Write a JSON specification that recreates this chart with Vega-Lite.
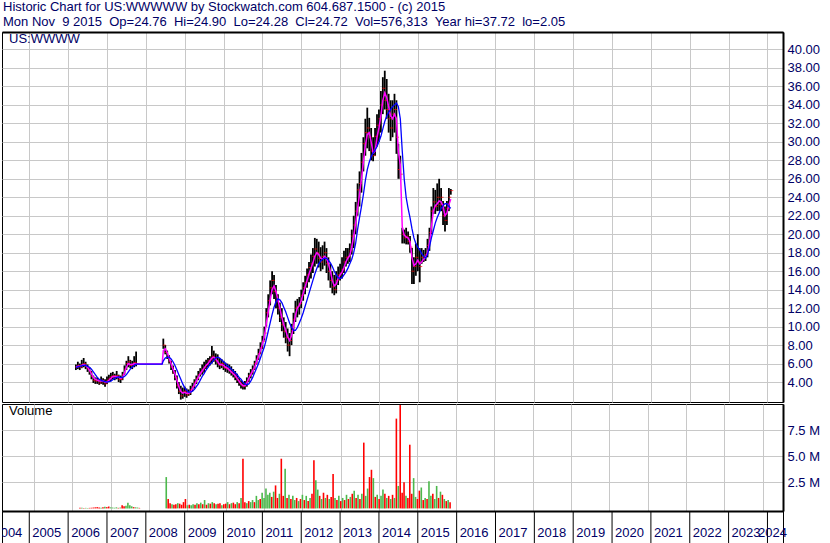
{
 "$schema": "https://vega.github.io/schema/vega-lite/v6.json",
 "background": "#ffffff",
 "padding": {"left": 1, "top": 0, "right": 0, "bottom": 0},
 "title": {"text": ["Historic Chart for US:WWWWW by Stockwatch.com 604.687.1500 - (c) 2015", "Mon Nov\u00a0\u00a09 2015\u00a0\u00a0Op=24.76\u00a0\u00a0Hi=24.90\u00a0\u00a0Lo=24.28\u00a0\u00a0Cl=24.72\u00a0\u00a0Vol=576,313\u00a0\u00a0Year hi=37.72\u00a0\u00a0lo=2.05"], "anchor": "start", "frame": "group", "fontSize": 13, "fontWeight": "normal", "font": "Liberation Sans", "color": "#000066", "lineHeight": 15, "offset": 3, "dx": 1},
 "config": {
  "font": "Liberation Sans",
  "view": {"stroke": "#000000", "strokeWidth": 1},
  "axis": {"gridColor": "#c8c8c8", "gridWidth": 1, "gridOpacity": 1, "labelFont": "Liberation Sans", "labelFontSize": 13, "labelColor": "#000066", "ticks": false, "domain": false, "labelOverlap": false}
 },
 "datasets": {
  "p": [
   {"t":2006.20,"h":5.9,"l":5.3,"c":5.6,"a":5.6,"b":5.6,"v":0.05,"s":"d"},
   {"t":2006.25,"h":6.2,"l":5.4,"c":5.8,"a":5.7,"b":5.65,"v":0.06,"s":"u"},
   {"t":2006.30,"h":6.0,"l":5.3,"c":5.6,"a":5.7,"b":5.7,"v":0.04,"s":"d"},
   {"t":2006.35,"h":6.4,"l":5.5,"c":5.9,"a":5.8,"b":5.75,"v":0.05,"s":"u"},
   {"t":2006.40,"h":6.6,"l":5.6,"c":6.0,"a":5.9,"b":5.8,"v":0.04,"s":"u"},
   {"t":2006.45,"h":6.2,"l":5.4,"c":5.7,"a":5.8,"b":5.8,"v":0.05,"s":"d"},
   {"t":2006.50,"h":5.9,"l":5.1,"c":5.4,"a":5.6,"b":5.7,"v":0.06,"s":"d"},
   {"t":2006.55,"h":5.6,"l":4.8,"c":5.1,"a":5.3,"b":5.6,"v":0.08,"s":"d"},
   {"t":2006.60,"h":5.2,"l":4.3,"c":4.6,"a":4.9,"b":5.4,"v":0.1,"s":"d"},
   {"t":2006.65,"h":4.7,"l":3.9,"c":4.2,"a":4.5,"b":5.1,"v":0.12,"s":"d"},
   {"t":2006.70,"h":4.5,"l":3.8,"c":4.1,"a":4.3,"b":4.8,"v":0.08,"s":"d"},
   {"t":2006.75,"h":4.5,"l":3.8,"c":4.2,"a":4.2,"b":4.5,"v":0.06,"s":"u"},
   {"t":2006.80,"h":4.3,"l":3.7,"c":3.9,"a":4.1,"b":4.3,"v":0.1,"s":"d"},
   {"t":2006.85,"h":4.6,"l":3.8,"c":4.2,"a":4.1,"b":4.2,"v":0.15,"s":"u"},
   {"t":2006.90,"h":4.4,"l":3.7,"c":4.0,"a":4.1,"b":4.1,"v":0.12,"s":"d"},
   {"t":2006.95,"h":4.3,"l":3.5,"c":3.8,"a":4.0,"b":4.05,"v":0.18,"s":"d"},
   {"t":2007.00,"h":4.6,"l":3.8,"c":4.2,"a":4.0,"b":4.0,"v":0.1,"s":"u"},
   {"t":2007.05,"h":4.8,"l":4.0,"c":4.4,"a":4.2,"b":4.05,"v":0.08,"s":"u"},
   {"t":2007.10,"h":5.0,"l":4.1,"c":4.6,"a":4.4,"b":4.1,"v":0.06,"s":"u"},
   {"t":2007.15,"h":5.1,"l":4.3,"c":4.7,"a":4.6,"b":4.25,"v":0.1,"s":"u"},
   {"t":2007.20,"h":4.9,"l":4.2,"c":4.5,"a":4.6,"b":4.4,"v":0.05,"s":"d"},
   {"t":2007.25,"h":5.2,"l":4.3,"c":4.7,"a":4.6,"b":4.5,"v":0.08,"s":"u"},
   {"t":2007.30,"h":4.8,"l":4.0,"c":4.3,"a":4.5,"b":4.55,"v":0.3,"s":"d"},
   {"t":2007.35,"h":4.7,"l":3.9,"c":4.3,"a":4.4,"b":4.5,"v":0.2,"s":"d"},
   {"t":2007.40,"h":5.1,"l":4.2,"c":4.8,"a":4.5,"b":4.5,"v":0.25,"s":"u"},
   {"t":2007.45,"h":5.8,"l":4.8,"c":5.4,"a":5.0,"b":4.6,"v":0.55,"s":"u"},
   {"t":2007.50,"h":6.3,"l":5.3,"c":6.0,"a":5.6,"b":4.8,"v":0.3,"s":"u"},
   {"t":2007.55,"h":6.8,"l":5.6,"c":6.2,"a":6.0,"b":5.1,"v":0.2,"s":"u"},
   {"t":2007.60,"h":6.4,"l":5.5,"c":5.8,"a":5.9,"b":5.4,"v":0.12,"s":"d"},
   {"t":2007.65,"h":6.3,"l":5.4,"c":5.9,"a":5.9,"b":5.6,"v":0.1,"s":"u"},
   {"t":2007.70,"h":6.8,"l":5.6,"c":6.1,"a":6.0,"b":5.8,"v":0.08,"s":"u"},
   {"t":2007.75,"h":7.3,"l":5.7,"c":6.0,"a":5.95,"b":5.95,"v":0.05,"s":"d"},
   {"t":2008.42,"a":5.95,"b":5.95},
   {"t":2008.45,"h":8.7,"l":7.6,"c":8.0,"a":7.4,"b":6.3,"v":3.0,"s":"u"},
   {"t":2008.50,"h":8.0,"l":7.0,"c":7.2,"a":7.6,"b":6.6,"v":0.9,"s":"d"},
   {"t":2008.55,"h":7.4,"l":6.5,"c":6.7,"a":7.2,"b":6.7,"v":0.5,"s":"d"},
   {"t":2008.60,"h":6.9,"l":6.0,"c":6.2,"a":6.6,"b":6.7,"v":0.4,"s":"u"},
   {"t":2008.65,"h":6.3,"l":5.3,"c":5.6,"a":6.0,"b":6.5,"v":0.35,"s":"d"},
   {"t":2008.70,"h":5.8,"l":4.9,"c":5.0,"a":5.4,"b":6.2,"v":0.4,"s":"d"},
   {"t":2008.75,"h":5.3,"l":4.2,"c":4.5,"a":4.9,"b":5.8,"v":0.5,"s":"u"},
   {"t":2008.80,"h":4.7,"l":3.3,"c":3.6,"a":4.2,"b":5.3,"v":0.45,"s":"d"},
   {"t":2008.85,"h":4.0,"l":2.7,"c":3.0,"a":3.5,"b":4.8,"v":0.35,"s":"d"},
   {"t":2008.90,"h":3.6,"l":2.1,"c":2.5,"a":3.0,"b":4.3,"v":0.6,"s":"d"},
   {"t":2008.95,"h":3.4,"l":2.2,"c":2.9,"a":2.8,"b":3.8,"v":0.9,"s":"d"},
   {"t":2009.00,"h":3.5,"l":2.4,"c":3.0,"a":2.9,"b":3.4,"v":0.3,"s":"u"},
   {"t":2009.05,"h":3.3,"l":2.3,"c":2.6,"a":2.8,"b":3.1,"v":0.35,"s":"d"},
   {"t":2009.10,"h":3.2,"l":2.5,"c":2.8,"a":2.8,"b":2.9,"v":0.3,"s":"u"},
   {"t":2009.15,"h":3.6,"l":2.6,"c":3.2,"a":2.9,"b":2.9,"v":0.4,"s":"u"},
   {"t":2009.20,"h":3.9,"l":3.0,"c":3.5,"a":3.3,"b":3.0,"v":0.35,"s":"d"},
   {"t":2009.25,"h":4.3,"l":3.3,"c":4.0,"a":3.7,"b":3.2,"v":0.5,"s":"u"},
   {"t":2009.30,"h":4.7,"l":3.8,"c":4.4,"a":4.1,"b":3.5,"v":0.4,"s":"d"},
   {"t":2009.35,"h":5.2,"l":4.2,"c":4.8,"a":4.5,"b":3.8,"v":0.55,"s":"u"},
   {"t":2009.40,"h":5.5,"l":4.6,"c":5.1,"a":4.9,"b":4.2,"v":0.4,"s":"d"},
   {"t":2009.45,"h":5.9,"l":4.8,"c":5.4,"a":5.2,"b":4.6,"v":0.8,"s":"u"},
   {"t":2009.50,"h":6.2,"l":5.0,"c":5.6,"a":5.5,"b":4.9,"v":0.35,"s":"d"},
   {"t":2009.55,"h":6.4,"l":5.4,"c":5.9,"a":5.8,"b":5.3,"v":0.5,"s":"u"},
   {"t":2009.60,"h":6.6,"l":5.6,"c":6.3,"a":6.0,"b":5.6,"v":0.45,"s":"d"},
   {"t":2009.65,"h":6.8,"l":5.8,"c":6.4,"a":6.3,"b":5.9,"v":0.6,"s":"u"},
   {"t":2009.70,"h":7.9,"l":6.0,"c":6.8,"a":6.6,"b":6.1,"v":0.5,"s":"d"},
   {"t":2009.75,"h":7.4,"l":6.2,"c":6.6,"a":6.7,"b":6.4,"v":0.4,"s":"u"},
   {"t":2009.80,"h":7.1,"l":5.9,"c":6.3,"a":6.5,"b":6.6,"v":0.45,"s":"d"},
   {"t":2009.85,"h":7.0,"l":5.6,"c":6.0,"a":6.2,"b":6.7,"v":0.5,"s":"d"},
   {"t":2009.90,"h":6.6,"l":5.4,"c":5.8,"a":5.9,"b":6.6,"v":0.3,"s":"u"},
   {"t":2009.95,"h":6.5,"l":5.5,"c":6.0,"a":5.9,"b":6.4,"v":0.4,"s":"d"},
   {"t":2010.00,"h":6.3,"l":5.3,"c":5.6,"a":5.8,"b":6.2,"v":0.45,"s":"d"},
   {"t":2010.05,"h":6.1,"l":5.1,"c":5.5,"a":5.6,"b":6.0,"v":0.6,"s":"u"},
   {"t":2010.10,"h":6.0,"l":5.0,"c":5.4,"a":5.5,"b":5.8,"v":0.4,"s":"d"},
   {"t":2010.15,"h":5.9,"l":4.9,"c":5.2,"a":5.3,"b":5.6,"v":0.5,"s":"u"},
   {"t":2010.20,"h":5.7,"l":4.7,"c":5.0,"a":5.1,"b":5.4,"v":0.55,"s":"d"},
   {"t":2010.25,"h":5.4,"l":4.5,"c":4.8,"a":4.9,"b":5.2,"v":0.4,"s":"d"},
   {"t":2010.30,"h":5.2,"l":4.2,"c":4.5,"a":4.7,"b":5.0,"v":0.6,"s":"u"},
   {"t":2010.35,"h":4.9,"l":3.9,"c":4.2,"a":4.4,"b":4.8,"v":0.5,"s":"d"},
   {"t":2010.40,"h":4.5,"l":3.6,"c":3.9,"a":4.1,"b":4.5,"v":1.0,"s":"u"},
   {"t":2010.45,"h":4.2,"l":3.3,"c":3.7,"a":3.8,"b":4.3,"v":4.76,"s":"d"},
   {"t":2010.50,"h":4.0,"l":3.2,"c":3.5,"a":3.6,"b":4.0,"v":0.6,"s":"d"},
   {"t":2010.55,"h":4.1,"l":3.2,"c":3.7,"a":3.6,"b":3.8,"v":0.5,"s":"u"},
   {"t":2010.60,"h":4.5,"l":3.5,"c":4.1,"a":3.9,"b":3.7,"v":0.7,"s":"d"},
   {"t":2010.65,"h":5.0,"l":4.0,"c":4.7,"a":4.4,"b":3.8,"v":0.6,"s":"u"},
   {"t":2010.70,"h":5.4,"l":4.4,"c":5.0,"a":4.8,"b":4.1,"v":0.8,"s":"u"},
   {"t":2010.75,"h":5.8,"l":4.8,"c":5.4,"a":5.2,"b":4.5,"v":0.6,"s":"d"},
   {"t":2010.80,"h":6.3,"l":5.3,"c":6.0,"a":5.6,"b":5.0,"v":1.2,"s":"u"},
   {"t":2010.85,"h":6.9,"l":5.9,"c":6.5,"a":6.2,"b":5.5,"v":0.8,"s":"u"},
   {"t":2010.90,"h":7.6,"l":6.4,"c":7.1,"a":6.8,"b":6.0,"v":0.9,"s":"d"},
   {"t":2010.95,"h":8.3,"l":7.0,"c":7.7,"a":7.4,"b":6.6,"v":1.5,"s":"u"},
   {"t":2011.00,"h":9.0,"l":7.6,"c":8.4,"a":8.1,"b":7.2,"v":1.0,"s":"u"},
   {"t":2011.05,"h":10.0,"l":8.5,"c":9.3,"a":8.9,"b":7.8,"v":1.9,"s":"u"},
   {"t":2011.10,"h":12.0,"l":10.0,"c":11.5,"a":10.3,"b":8.6,"v":1.3,"s":"u"},
   {"t":2011.15,"h":13.5,"l":11.0,"c":12.8,"a":11.6,"b":9.5,"v":1.5,"s":"u"},
   {"t":2011.20,"h":15.0,"l":12.3,"c":14.2,"a":12.9,"b":10.4,"v":1.1,"s":"d"},
   {"t":2011.25,"h":16.0,"l":13.5,"c":15.0,"a":14.0,"b":11.3,"v":1.6,"s":"u"},
   {"t":2011.30,"h":15.6,"l":13.0,"c":13.8,"a":14.4,"b":12.1,"v":2.2,"s":"d"},
   {"t":2011.35,"h":14.5,"l":12.0,"c":12.8,"a":13.8,"b":12.7,"v":1.0,"s":"d"},
   {"t":2011.40,"h":13.5,"l":11.3,"c":12.0,"a":12.9,"b":13.0,"v":1.4,"s":"u"},
   {"t":2011.45,"h":12.6,"l":10.5,"c":11.0,"a":12.0,"b":12.9,"v":4.76,"s":"d"},
   {"t":2011.50,"h":12.0,"l":9.5,"c":10.2,"a":11.0,"b":12.6,"v":1.2,"s":"d"},
   {"t":2011.55,"h":11.0,"l":8.8,"c":9.5,"a":10.2,"b":12.1,"v":3.8,"s":"u"},
   {"t":2011.60,"h":10.5,"l":8.2,"c":8.8,"a":9.6,"b":11.6,"v":1.0,"s":"d"},
   {"t":2011.65,"h":9.8,"l":7.3,"c":8.0,"a":8.9,"b":11.0,"v":1.3,"s":"u"},
   {"t":2011.70,"h":9.3,"l":6.8,"c":8.5,"a":8.5,"b":10.4,"v":0.9,"s":"d"},
   {"t":2011.75,"h":10.3,"l":8.0,"c":9.6,"a":9.0,"b":9.9,"v":1.2,"s":"u"},
   {"t":2011.80,"h":11.5,"l":9.2,"c":10.8,"a":10.0,"b":9.6,"v":0.8,"s":"u"},
   {"t":2011.85,"h":12.8,"l":10.5,"c":12.0,"a":11.2,"b":9.6,"v":1.0,"s":"d"},
   {"t":2011.90,"h":13.0,"l":11.0,"c":12.2,"a":12.0,"b":9.9,"v":0.7,"s":"u"},
   {"t":2011.95,"h":13.2,"l":11.3,"c":12.5,"a":12.3,"b":10.4,"v":0.9,"s":"d"},
   {"t":2012.00,"h":14.0,"l":12.0,"c":13.4,"a":12.8,"b":10.9,"v":1.3,"s":"u"},
   {"t":2012.05,"h":14.8,"l":12.8,"c":14.2,"a":13.6,"b":11.5,"v":0.8,"s":"d"},
   {"t":2012.10,"h":15.5,"l":13.5,"c":14.8,"a":14.3,"b":12.2,"v":1.2,"s":"u"},
   {"t":2012.15,"h":16.3,"l":14.2,"c":15.6,"a":15.0,"b":12.9,"v":0.7,"s":"d"},
   {"t":2012.20,"h":17.0,"l":14.8,"c":16.4,"a":15.7,"b":13.6,"v":1.0,"s":"u"},
   {"t":2012.25,"h":17.8,"l":15.2,"c":16.8,"a":16.3,"b":14.3,"v":1.4,"s":"d"},
   {"t":2012.30,"h":18.5,"l":15.8,"c":17.6,"a":16.9,"b":15.0,"v":4.6,"s":"d"},
   {"t":2012.35,"h":19.6,"l":16.5,"c":18.4,"a":17.6,"b":15.7,"v":2.7,"s":"u"},
   {"t":2012.40,"h":19.5,"l":16.8,"c":18.0,"a":18.0,"b":16.3,"v":1.8,"s":"u"},
   {"t":2012.45,"h":19.2,"l":16.4,"c":17.4,"a":17.8,"b":16.8,"v":1.2,"s":"d"},
   {"t":2012.50,"h":18.6,"l":16.0,"c":17.0,"a":17.4,"b":17.1,"v":0.9,"s":"u"},
   {"t":2012.55,"h":18.8,"l":16.2,"c":17.6,"a":17.3,"b":17.3,"v":1.5,"s":"d"},
   {"t":2012.60,"h":19.2,"l":16.6,"c":18.0,"a":17.6,"b":17.4,"v":1.0,"s":"u"},
   {"t":2012.65,"h":18.5,"l":15.8,"c":16.8,"a":17.4,"b":17.4,"v":1.3,"s":"d"},
   {"t":2012.70,"h":17.5,"l":15.0,"c":16.0,"a":16.8,"b":17.2,"v":0.9,"s":"u"},
   {"t":2012.75,"h":16.8,"l":14.2,"c":15.0,"a":16.0,"b":16.9,"v":1.1,"s":"d"},
   {"t":2012.80,"h":16.0,"l":13.6,"c":14.3,"a":15.0,"b":16.5,"v":3.3,"s":"d"},
   {"t":2012.85,"h":15.6,"l":13.4,"c":14.0,"a":14.4,"b":16.0,"v":1.0,"s":"u"},
   {"t":2012.90,"h":16.0,"l":13.6,"c":15.0,"a":14.6,"b":15.6,"v":0.8,"s":"d"},
   {"t":2012.95,"h":16.5,"l":14.5,"c":15.6,"a":15.2,"b":15.3,"v":1.2,"s":"u"},
   {"t":2013.00,"h":16.8,"l":15.0,"c":15.8,"a":15.6,"b":15.2,"v":0.7,"s":"d"},
   {"t":2013.05,"h":17.5,"l":15.2,"c":16.2,"a":15.9,"b":15.3,"v":1.0,"s":"u"},
   {"t":2013.10,"h":18.2,"l":15.8,"c":17.0,"a":16.4,"b":15.6,"v":0.8,"s":"d"},
   {"t":2013.15,"h":18.5,"l":16.5,"c":17.5,"a":17.0,"b":15.9,"v":1.3,"s":"u"},
   {"t":2013.20,"h":18.5,"l":16.8,"c":17.6,"a":17.4,"b":16.3,"v":0.9,"s":"d"},
   {"t":2013.25,"h":19.0,"l":17.0,"c":18.2,"a":17.7,"b":16.8,"v":1.1,"s":"u"},
   {"t":2013.30,"h":20.5,"l":17.8,"c":19.8,"a":18.6,"b":17.3,"v":1.4,"s":"d"},
   {"t":2013.35,"h":22.0,"l":18.5,"c":21.0,"a":19.8,"b":18.0,"v":1.7,"s":"u"},
   {"t":2013.40,"h":23.5,"l":20.0,"c":22.5,"a":21.2,"b":19.0,"v":1.0,"s":"d"},
   {"t":2013.45,"h":25.5,"l":22.0,"c":24.8,"a":22.8,"b":20.5,"v":1.3,"s":"u"},
   {"t":2013.50,"h":26.8,"l":23.0,"c":25.5,"a":24.3,"b":21.8,"v":0.9,"s":"d"},
   {"t":2013.55,"h":28.8,"l":24.5,"c":27.8,"a":26.0,"b":23.0,"v":1.4,"s":"u"},
   {"t":2013.60,"h":30.5,"l":26.8,"c":29.8,"a":27.8,"b":24.3,"v":6.3,"s":"d"},
   {"t":2013.65,"h":32.5,"l":28.5,"c":31.0,"a":29.6,"b":25.8,"v":1.2,"s":"u"},
   {"t":2013.70,"h":33.7,"l":29.3,"c":31.5,"a":30.8,"b":27.0,"v":1.9,"s":"u"},
   {"t":2013.75,"h":32.6,"l":29.0,"c":30.5,"a":31.0,"b":27.8,"v":3.0,"s":"d"},
   {"t":2013.80,"h":31.5,"l":28.0,"c":29.0,"a":30.0,"b":28.4,"v":3.7,"s":"d"},
   {"t":2013.85,"h":30.5,"l":27.9,"c":28.5,"a":28.8,"b":28.8,"v":2.9,"s":"u"},
   {"t":2013.90,"h":31.5,"l":28.5,"c":30.6,"a":29.0,"b":29.1,"v":1.1,"s":"d"},
   {"t":2013.95,"h":33.0,"l":29.5,"c":31.8,"a":30.5,"b":29.5,"v":1.3,"s":"u"},
   {"t":2014.00,"h":33.5,"l":30.0,"c":32.5,"a":31.5,"b":30.0,"v":0.9,"s":"d"},
   {"t":2014.05,"h":35.5,"l":31.0,"c":34.0,"a":32.8,"b":30.6,"v":1.2,"s":"u"},
   {"t":2014.10,"h":37.0,"l":33.0,"c":35.8,"a":34.5,"b":31.4,"v":1.8,"s":"u"},
   {"t":2014.15,"h":37.7,"l":33.5,"c":34.5,"a":35.3,"b":32.2,"v":1.4,"s":"d"},
   {"t":2014.20,"h":36.8,"l":32.5,"c":33.5,"a":34.8,"b":32.8,"v":1.0,"s":"u"},
   {"t":2014.25,"h":35.2,"l":31.0,"c":32.5,"a":33.8,"b":33.2,"v":1.2,"s":"d"},
   {"t":2014.30,"h":34.5,"l":30.1,"c":31.5,"a":32.8,"b":33.5,"v":0.9,"s":"u"},
   {"t":2014.35,"h":34.5,"l":30.5,"c":33.0,"a":32.5,"b":33.8,"v":1.3,"s":"d"},
   {"t":2014.40,"h":35.2,"l":31.0,"c":33.5,"a":33.0,"b":34.0,"v":1.0,"s":"u"},
   {"t":2014.45,"h":34.5,"l":28.7,"c":30.5,"a":32.5,"b":34.2,"v":8.6,"s":"d"},
   {"t":2014.50,"h":29.8,"l":26.0,"c":27.0,"a":29.0,"b":33.8,"v":2.15,"s":"u"},
   {"t":2014.55,"h":28.5,"l":26.0,"c":26.5,"a":27.5,"b":32.5,"v":9.9,"s":"d"},
   {"t":2014.60,"h":20.7,"l":19.0,"c":20.0,"a":20.8,"b":29.0,"v":1.5,"s":"d"},
   {"t":2014.65,"h":20.5,"l":19.0,"c":19.6,"a":19.9,"b":26.0,"v":2.5,"s":"d"},
   {"t":2014.70,"h":20.7,"l":18.9,"c":19.8,"a":19.7,"b":24.0,"v":1.2,"s":"u"},
   {"t":2014.75,"h":20.3,"l":18.9,"c":19.2,"a":19.6,"b":22.8,"v":1.0,"s":"d"},
   {"t":2014.80,"h":19.8,"l":18.0,"c":18.6,"a":19.2,"b":21.8,"v":6.1,"s":"d"},
   {"t":2014.85,"h":18.5,"l":14.6,"c":16.0,"a":17.5,"b":20.6,"v":1.4,"s":"d"},
   {"t":2014.90,"h":17.5,"l":14.6,"c":16.5,"a":16.6,"b":19.6,"v":2.9,"s":"u"},
   {"t":2014.95,"h":19.0,"l":15.5,"c":17.5,"a":16.8,"b":19.0,"v":1.1,"s":"u"},
   {"t":2015.00,"h":20.0,"l":16.0,"c":17.0,"a":17.2,"b":18.6,"v":0.9,"s":"d"},
   {"t":2015.05,"h":18.5,"l":14.8,"c":16.5,"a":16.8,"b":18.3,"v":1.7,"s":"d"},
   {"t":2015.10,"h":18.5,"l":16.8,"c":17.5,"a":17.0,"b":17.9,"v":2.0,"s":"u"},
   {"t":2015.15,"h":18.3,"l":17.0,"c":17.6,"a":17.3,"b":17.6,"v":0.8,"s":"d"},
   {"t":2015.20,"h":18.5,"l":17.1,"c":17.8,"a":17.5,"b":17.4,"v":1.0,"s":"u"},
   {"t":2015.25,"h":19.5,"l":17.5,"c":18.8,"a":18.0,"b":17.8,"v":0.9,"s":"d"},
   {"t":2015.30,"h":20.7,"l":18.2,"c":20.2,"a":19.0,"b":18.6,"v":2.6,"s":"u"},
   {"t":2015.35,"h":23.0,"l":20.0,"c":22.5,"a":20.8,"b":19.6,"v":1.2,"s":"u"},
   {"t":2015.40,"h":25.0,"l":22.2,"c":23.5,"a":22.5,"b":20.4,"v":1.4,"s":"d"},
   {"t":2015.45,"h":24.8,"l":22.2,"c":23.0,"a":23.1,"b":21.2,"v":0.9,"s":"u"},
   {"t":2015.50,"h":25.5,"l":22.5,"c":24.0,"a":23.3,"b":21.8,"v":2.15,"s":"u"},
   {"t":2015.55,"h":26.0,"l":22.5,"c":23.2,"a":23.6,"b":22.3,"v":1.0,"s":"d"},
   {"t":2015.60,"h":25.0,"l":22.5,"c":24.0,"a":23.5,"b":22.8,"v":1.6,"s":"u"},
   {"t":2015.65,"h":23.6,"l":21.0,"c":22.0,"a":23.0,"b":23.1,"v":1.3,"s":"d"},
   {"t":2015.70,"h":23.0,"l":20.3,"c":21.5,"a":22.0,"b":23.3,"v":0.9,"s":"u"},
   {"t":2015.75,"h":23.6,"l":21.0,"c":22.8,"a":22.3,"b":23.3,"v":0.7,"s":"d"},
   {"t":2015.80,"h":25.0,"l":22.5,"c":24.0,"a":23.2,"b":23.0,"v":0.8,"s":"u"},
   {"t":2015.85,"h":24.9,"l":24.28,"c":24.72,"a":23.8,"b":22.8,"v":0.58,"s":"d"}
  ],
  "yrs": [
   {"yr":2004},{"yr":2005},{"yr":2006},{"yr":2007},{"yr":2008},{"yr":2009},{"yr":2010},
   {"yr":2011},{"yr":2012},{"yr":2013},{"yr":2014},{"yr":2015},{"yr":2016},{"yr":2017},
   {"yr":2018},{"yr":2019},{"yr":2020},{"yr":2021},{"yr":2022},{"yr":2023},{"yr":2024}
  ]
 },
 "spacing": 2,
 "bounds": "flush",
 "resolve": {"scale": {"x": "independent", "y": "independent"}},
 "vconcat": [
  {
   "width": 781,
   "height": 370,
   "title": {"text": "US:WWWW", "anchor": "start", "frame": "group", "orient": "top", "offset": -14, "dx": 7, "fontSize": 13, "fontWeight": "normal", "font": "Liberation Sans", "color": "#000066"},
   "data": {"name": "p"},
   "encoding": {
    "x": {"field": "t", "type": "quantitative", "scale": {"domain": [2004.298, 2024.4], "nice": false, "zero": false},
          "axis": {"orient": "top", "values": [2005,2006,2007,2008,2009,2010,2011,2012,2013,2014,2015,2016,2017,2018,2019,2020,2021,2022,2023,2024], "tickCount": 30, "grid": true, "labels": false, "domain": true, "domainColor": "#000000", "domainWidth": 2, "title": null}}
   },
   "layer": [
    {"mark": {"type": "rule", "color": "#000000", "strokeWidth": 1.8},
     "encoding": {
      "y": {"field": "l", "type": "quantitative", "scale": {"domain": [1.84, 41.89], "nice": false, "zero": false},
            "axis": {"orient": "right", "values": [4,6,8,10,12,14,16,18,20,22,24,26,28,30,32,34,36,38,40], "tickCount": 30, "format": ".2f", "grid": true, "domain": true, "domainColor": "#000000", "domainWidth": 2, "labelPadding": 4, "labelOverlap": false, "labelBound": false, "labelFontSize": 13, "title": null}},
      "y2": {"field": "h"}
     }},
    {"mark": {"type": "tick", "orient": "horizontal", "color": "#ff0000", "thickness": 1, "size": 3, "xOffset": 1},
     "encoding": {"y": {"field": "c", "type": "quantitative"}}},
    {"mark": {"type": "line", "color": "#ff00ff", "strokeWidth": 1.5},
     "encoding": {"y": {"field": "a", "type": "quantitative"}}},
    {"mark": {"type": "line", "color": "#0000ff", "strokeWidth": 1.3},
     "encoding": {"y": {"field": "b", "type": "quantitative"}}}
   ]
  },
  {
   "spacing": 0,
   "bounds": "flush",
   "resolve": {"scale": {"x": "independent", "y": "independent"}},
   "vconcat": [
    {
     "width": 781,
     "height": 107,
     "title": {"text": "Volume", "anchor": "start", "frame": "group", "orient": "top", "offset": -14, "dx": 7, "fontSize": 13, "fontWeight": "normal", "font": "Liberation Sans", "color": "#000000"},
     "data": {"name": "p"},
     "mark": {"type": "bar", "width": 1.6},
     "encoding": {
      "x": {"field": "t", "type": "quantitative", "scale": {"domain": [2004.298, 2024.4], "nice": false, "zero": false},
            "axis": {"orient": "bottom", "values": [2005,2006,2007,2008,2009,2010,2011,2012,2013,2014,2015,2016,2017,2018,2019,2020,2021,2022,2023,2024], "tickCount": 30, "grid": true, "labels": false, "domain": true, "domainColor": "#000000", "domainWidth": 2, "title": null}},
      "y": {"field": "v", "type": "quantitative", "scale": {"domain": [-0.25, 10], "nice": false, "zero": false},
            "axis": {"orient": "right", "values": [2.5, 5, 7.5], "tickCount": 10, "labelExpr": "format(datum.value, '.1f') + ' M'", "grid": true, "domain": true, "domainColor": "#000000", "domainWidth": 2, "labelPadding": 4, "labelOverlap": false, "title": null}},
      "y2": {"datum": 0},
      "color": {"field": "s", "type": "nominal", "scale": {"domain": ["u", "d"], "range": ["#4cb84c", "#ff0000"]}, "legend": null}
     }
    },
    {
     "width": 781,
     "height": 32,
     "data": {"name": "yrs"},
     "encoding": {"x": {"field": "yr", "type": "quantitative", "scale": {"domain": [2004.298, 2024.4], "nice": false, "zero": false}, "axis": null}},
     "layer": [
      {"mark": {"type": "rule", "color": "#000000", "strokeWidth": 1, "clip": true}, "encoding": {}},
      {"transform": [{"filter": "datum.yr < 2024"}],
       "mark": {"type": "text", "align": "left", "baseline": "middle", "dx": 3, "dy": 6, "fontSize": 13, "font": "Liberation Sans", "color": "#000066", "clip": true},
       "encoding": {"text": {"field": "yr", "type": "nominal"}}},
      {"transform": [{"filter": "datum.yr == 2024"}],
       "mark": {"type": "text", "align": "right", "baseline": "middle", "dx": 4, "dy": 6, "fontSize": 13, "font": "Liberation Sans", "color": "#000066"},
       "encoding": {"x": {"value": "width"}, "text": {"field": "yr", "type": "nominal"}}}
     ]
    }
   ]
  }
 ]
}
